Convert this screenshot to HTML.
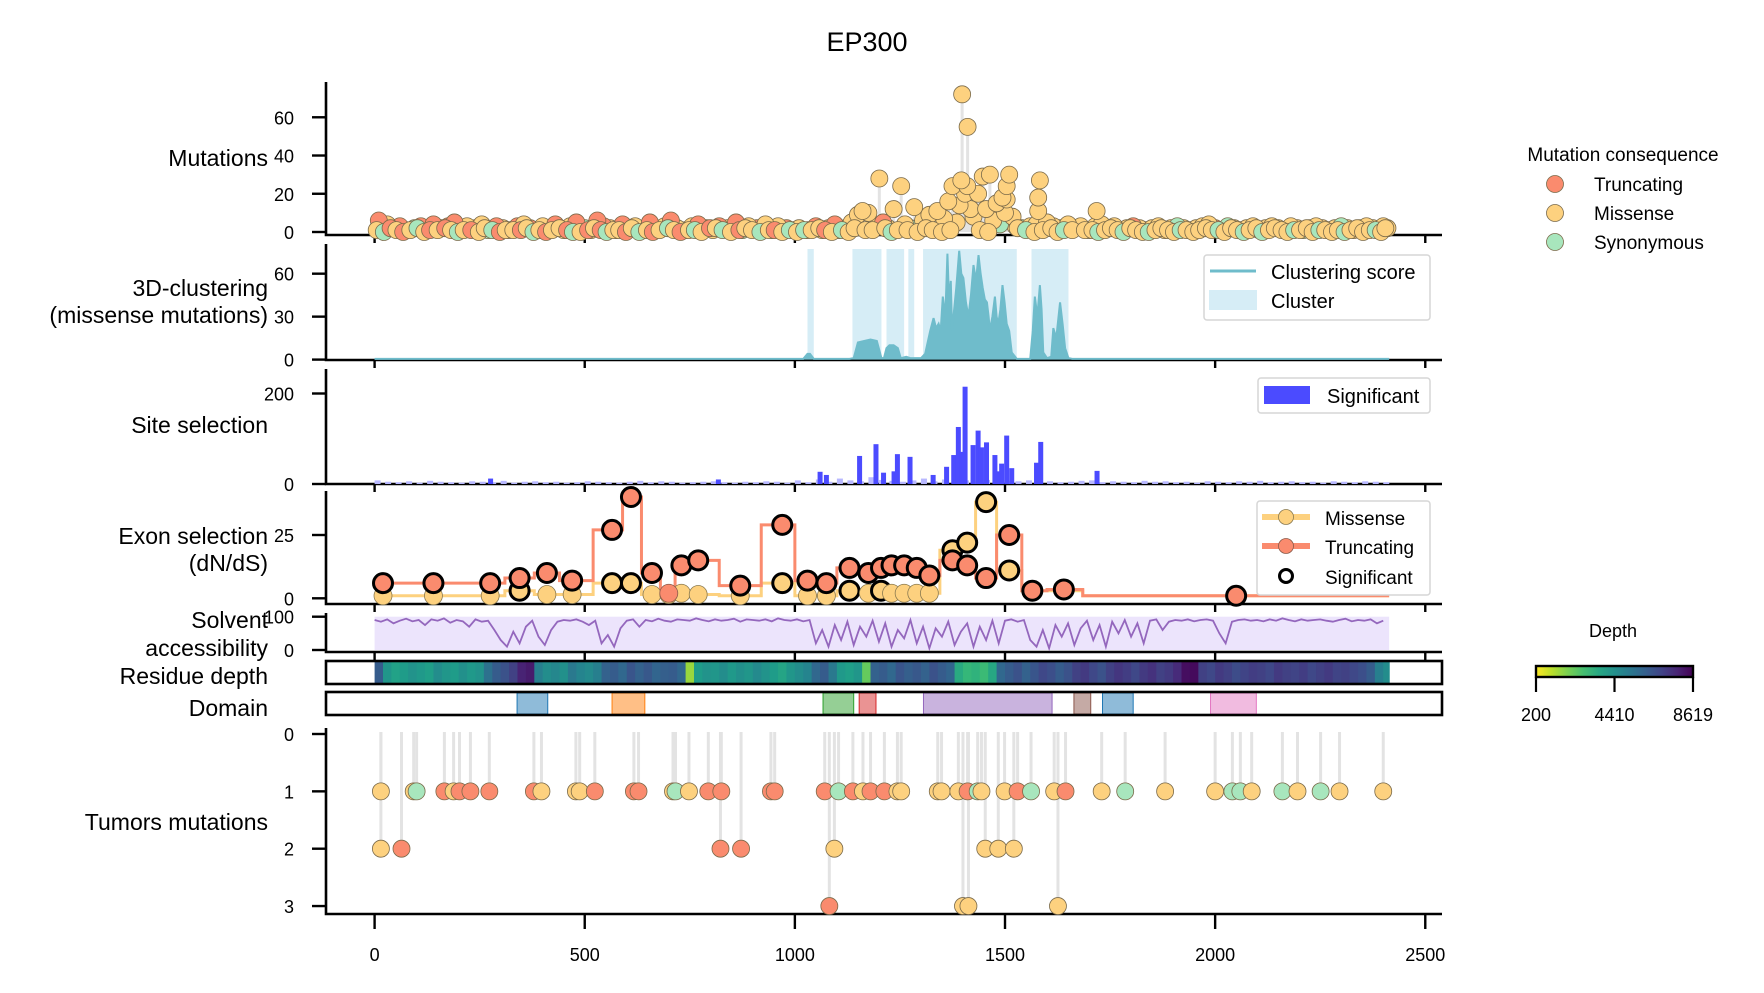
<!DOCTYPE html>
<html><head><meta charset="utf-8"><title>EP300</title>
<style>
html,body{margin:0;padding:0;background:#fff;}
svg{display:block;font-family:"Liberation Sans",Arial,sans-serif;}
</style></head>
<body>
<svg id="chart" xmlns="http://www.w3.org/2000/svg" width="1764" height="993" viewBox="0 0 1764 993">
<rect width="1764" height="993" fill="#fff"/>
<text x="867" y="51" font-size="27" text-anchor="middle">EP300</text>
<g id="layer"></g>
</svg>
<script>
// ---- data ----
const xTicks = [0, 500, 1000, 1500, 2000, 2500];
const proteinLength = 2414;
const mutPos = [10,18,30,45,60,75,95,110,125,140,160,175,190,205,220,240,255,270,290,305,320,340,355,370,385,400,415,430,450,465,480,500,515,530,545,560,575,590,605,620,640,655,670,690,705,720,740,755,770,790,805,820,840,860,875,890,910,930,945,960,980,995,
1010,1030,1050,1065,1080,1095,1105,1120,1135,1150,1161,1175,1190,1201,1210,1222,1235,1253,1262,1275,1284,1305,1320,1339,1355,1365,1375,1385,1392,1396,1398,1405,1410,1411,1418,1425,1436,1447,1455,1464,1472,1480,1488,1494,1500,1504,1504,1510,1518,1525,1540,1560,1575,1579,1579,1583,1600,1615,1630,1650,1665,1680,1700,1718,
1715,1730,1745,1760,1775,1790,1805,1820,1835,1850,1865,1880,1895,1910,1925,1940,1955,1970,1985,2000,2015,2030,2045,2060,2075,2090,2105,2120,2135,2150,2165,2180,2195,2210,2225,2240,2255,2270,2285,2300,2315,2330,2345,2360,2375,2390,2400,2410];
const mutCount = [6,1,4,2,3,1,2,3,1,4,2,3,5,1,3,2,4,1,3,2,1,3,4,2,1,3,2,4,1,3,5,2,1,6,3,2,1,4,2,3,1,5,2,3,6,2,1,3,4,2,1,3,2,5,1,3,2,4,1,3,2,1,
2,1,3,1,2,4,1,2,5,9,11,10,3,28,5,2,12,24,4,2,13,6,9,11,7,16,24,5,14,27,72,20,24,55,12,8,20,29,12,30,6,15,4,18,10,24,17,30,8,3,2,3,4,18,11,27,5,3,2,4,2,3,1,11,
3,4,2,3,1,2,3,2,1,2,3,1,2,3,2,1,2,3,4,2,1,3,2,1,2,3,1,2,3,2,1,3,2,1,2,3,2,1,2,3,2,1,2,3,2,1,3,2];
const mutType = ["T","S","M","M","T","M","S","T","M","T","M","T","T","S","M","T","M","S","T","M","M","T","M","T","S","M","T","T","M","M","T","S","M","T","T","M","M","T","S","M","M","T","S","M","T","M","S","M","T","M","M","T","M","T","S","M","T","M","S","M","T","M",
"M","S","T","M","M","T","S","M","M","M","M","M","M","M","T","M","M","M","M","S","M","M","M","M","M","M","M","M","M","M","M","M","M","M","M","M","M","M","M","M","M","M","S","M","M","M","M","M","M","M","S","M","M","M","M","M","M","M","S","M","M","M","S","M",
"M","M","S","M","M","M","T","M","S","M","M","M","M","S","M","M","M","M","M","T","M","S","M","M","M","M","S","M","M","M","M","M","M","S","M","M","M","M","M","S","M","M","M","M","M","S","M","M"];
// dense low-count background row
const baseMutPos = [5,22,38,52,68,85,102,118,132,150,168,182,198,212,230,248,262,280,298,312,330,348,362,378,392,408,422,440,458,472,490,508,522,538,552,568,582,598,612,630,648,662,678,698,712,728,748,762,778,798,812,828,848,868,882,898,918,938,952,970,988,
1005,1022,1040,1058,1072,1088,1112,1128,1142,1168,1185,1215,1230,1245,1268,1292,1312,1328,1350,1370,1440,1460,1530,1550,1570,1590,1610,1625,1640,1660,1690,1708,1722,1738,1752,1768,1782,1798,1812,1828,1842,1858,1872,1888,1902,1918,1932,1948,1962,1978,1992,2008,2022,2038,2052,2068,2082,2098,2112,2128,2142,2158,2172,2188,2202,2218,2232,2248,2262,2278,2292,2308,2322,2338,2352,2368,2382,2395,2405];
const baseMutCount = ("1021012011"+"2101102101"+"1120101210"+"0121011020"+"1012101102"+"2101210110"+"1"+"0112101021"+"1201102101"+"1021012011"+"1101210210"+"0121011012"+"1102101201"+"2101120110"+"101201102").split('').map(Number);
const baseMutType = ("MSTMTMSMTM"+"TMSMTMMSTM"+"MTMSMTMMTS"+"MTMTSMMTMS"+"MTMSMTMSMT"+"MSMTMMSMTM"+"S"+"MSMMTMSMMM"+"MMSMMMMMMM"+"MMMSMMMMSM"+"MMSMMMSMMM"+"SMMMMSMMMM"+"MSMMMSMMSM"+"MMMSMMMSMM"+"MSMMMMSMM").split('');

const clusterStart = [1030,1137,1218,1270,1305,1563];
const clusterEnd   = [1045,1206,1260,1284,1528,1651];
const scorePos = [0,1020,1030,1036,1045,1130,1140,1150,1165,1180,1195,1206,1212,1218,1225,1235,1245,1252,1265,1275,1285,1300,1310,1322,1330,1336,1342,1347,1352,1358,1363,1367,1371,1374,1377,1384,1391,1396,1401,1407,1413,1419,1425,1431,1437,1442,1447,1452,1457,1461,1464,1470,1476,1480,1484,1489,1494,1499,1504,1510,1516,1528,1560,1566,1571,1577,1583,1587,1591,1600,1610,1615,1622,1631,1637,1643,1651,1660,2414];
const scoreVal = [0.5,0.5,4,4,0.5,0.5,1,12,13,14,13,1,1,8,10,10,8,1,2,1,1,1,4,20,29,22,25,20,44,30,74,40,55,20,29,50,76,60,57,40,30,45,66,55,73,60,50,42,40,30,20,30,44,30,25,35,52,40,25,20,5,0.5,0.5,20,44,30,52,35,5,1,2,22,15,40,25,8,1,0.5,0.5];

const sitePos = [0,25,50,75,100,125,150,175,200,225,250,275,300,325,350,375,400,425,450,475,500,525,550,575,600,625,650,675,700,725,750,775,800,825,850,875,900,925,950,975,1000,1025,1050,1075,1100,1125,1150,1175,1200,1225,1250,1275,1300,1325,1350,1375,1400,1425,1450,1475,1500,1525,1550,1575,1600,1625,1650,1675,1700,1725,1750,1775,1800,1825,1850,1875,1900,1925,1950,1975,2000,2025,2050,2075,2100,2125,2150,2175,2200,2225,2250,2275,2300,2325,2350,2375,2400];
const siteVal = [8,5,4,6,3,7,5,4,3,6,5,4,7,3,5,6,4,5,3,4,6,5,4,3,5,7,4,6,5,3,4,5,6,4,3,5,4,6,5,3,8,4,10,5,12,8,6,15,9,7,5,8,12,6,10,14,8,6,9,5,7,6,8,5,6,4,5,7,8,4,6,5,4,7,5,6,4,5,3,6,5,4,6,5,7,4,5,6,4,5,3,6,5,4,6,5,4];
const sigPos = [276,818,1060,1075,1154,1193,1211,1236,1244,1274,1329,1361,1378,1389,1397,1405,1424,1436,1444,1456,1476,1484,1492,1504,1516,1575,1585,1719];
const sigVal = [12,10,27,20,62,88,25,28,66,60,20,38,64,126,71,215,86,118,81,92,64,28,45,107,35,47,93,29];

const exStart = [0,80,200,310,380,440,520,590,635,680,715,750,820,920,1000,1050,1100,1150,1190,1218,1245,1275,1305,1345,1390,1430,1480,1540,1600,1685];
const exCenter = [20,140,275,345,410,470,565,610,660,700,730,770,870,970,1030,1075,1130,1175,1205,1230,1260,1290,1320,1375,1410,1455,1510,1565,1640,2050];
const exMis = [1,1,1,3,1.5,1.5,6,6,1.5,1.5,2,1.5,1,6,1,1,3,2,3,2,2,2,2,19,22,38,11,3,3,1];
const exTrunc = [6,6,6,8,10,7,27,40,10,2,13,15,5,29,7,6,12,10,12,13,13,12,9,15,13,8,25,3,3.5,1];
const exMisSig = [0,0,0,1,0,0,1,1,0,0,0,0,0,1,0,0,1,0,1,0,0,0,0,1,1,1,1,0,0,0];
const exTruncSig = [1,1,1,1,1,1,1,1,1,0,1,1,1,1,1,1,1,1,1,1,1,1,1,1,1,1,1,1,1,1];

const solvStep = 15;
const solvVal = [90,85,92,80,88,94,86,90,75,92, 88,95,82,90,86,70,92,85,88,60, 30,10,55,20,70,88,40,15,60,85, 90,88,92,85,75,88,20,45,10,65, 88,92,70,90,86,94,88,85,92,90, 88,95,90,86,92,88,90,94,85,92, 90,88,92,86,95,90,88,92,86,90, 20,60,10,75,30,85,15,70,40,88, 25,80,10,60,35,90,20,70,5,65, 40,85,15,55,80,10,70,30,88,20, 88,92,85,90,30,10,60,5,75,40, 80,15,65,88,30,75,10,85,50,90, 40,80,20,88,92,60,85,90,88,92, 86,90,92,88,50,20,85,90,92,88, 90,86,92,88,95,90,86,92,88,90, 92,88,85,90,94,86,90,88,92,80, 88];

const depthStep = 20;
const depthVal = [6200, 4200,3800,4000,4300,4100,3900,4500,4200,4000,4400,4100,4300, 5500,6200,6500,7000, 7800,8000, 5000,4500,4700,4400,5200,4800,4600,5000, 6000,6200,5800,6400,6000,6300,5900,6100,6200,5800, 1500, 4000,4300,4200,4500,4100,4400,4200,4600,4300, 4000,3700,4200,4500,4800,5800,6200,5200,4100,3900,4200, 2200, 6000,6200,5800,6400,6100,6300,6000,6500,6200,5900, 3500,3000,3200,2900,3600, 5800,6200,6500,6000,6400,6800,6600,6200,6500,7000,7200,6800,6500,7000,7300,7100,6800,7200,7400,7000,7200,7600, 8300,8400, 7000,6800,7200,7000,6700,6900,7100,7000,6800,7200,7000,6900,7100,6800,7000,7200,6900,7000,6800,6600,6200, 5000,4500];
const depthMin = 200, depthMid = 4410, depthMax = 8619;

const domainStart = [339,565,1067,1153,1306,1664,1732,1989];
const domainEnd   = [412,643,1140,1193,1612,1704,1805,2098];
const domainColor = ["#1f77b4","#ff7f0e","#2ca02c","#d62728","#9467bd","#8c564b","#1f77b4","#e377c2"];

const tumPos = [15,93,100,166,188,202,228,273,379,397,479,488,524,617,628,710,716,748,794,825,943,952,1071,1104,1138,1162,1180,1213,1244,1253,1340,1349,1389,1411,1435,1444,1499,1530,1562,1617,1644,1730,1786,1881,2000,2041,2060,2087,2160,2196,2251,2296,2400,
15,64,823,872,1094,1453,1484,1521, 1082,1400,1413,1626];
const tumRow = [1,1,1,1,1,1,1,1,1,1,1,1,1,1,1,1,1,1,1,1,1,1,1,1,1,1,1,1,1,1,1,1,1,1,1,1,1,1,1,1,1,1,1,1,1,1,1,1,1,1,1,1,1, 2,2,2,2,2,2,2,2, 3,3,3,3];
const tumType = ["M","M","S","T","M","T","T","T","T","M","M","M","T","T","T","M","S","M","T","T","T","T","T","S","T","M","T","T","M","M","M","M","M","T","S","M","M","T","S","M","T","M","S","M","M","S","S","M","S","M","S","M","M", "M","T","T","T","M","M","M","M", "T","M","M","M"];

// ---- layout ----
const NS = "http://www.w3.org/2000/svg";
const layer = document.getElementById('layer');
const X0 = 374.6, XS = 0.42027, SPL = 326, SPR = 1442;
const X = p => X0 + p * XS;
const COL = {T:"#fa8b6e", M:"#fdd17f", S:"#a8e6bd"};
function mk(tag, attrs, parent) {
  const e = document.createElementNS(NS, tag);
  for (const k in attrs) e.setAttribute(k, attrs[k]);
  (parent || layer).appendChild(e);
  return e;
}
function txt(s, x, y, size, anchor, parent) {
  const t = mk('text', {x:x, y:y, 'font-size':size, 'text-anchor':anchor || 'end'}, parent);
  t.textContent = s;
  return t;
}
function panel(name, top, bottom, yTicks, yFn, labels, labelYs) {
  const g = mk('g', {});
  
  
  const sp = mk('path', {d:`M${SPL},${top} V${bottom} H${SPR}`, stroke:'#000', 'stroke-width':2.6, fill:'none'}, g);
  
  
  xTicks.forEach(v => mk('line', {x1:X(v), x2:X(v), y1:bottom, y2:bottom + 8, stroke:'#000', 'stroke-width':2.4}, g));
  yTicks.forEach(v => {
    const y = yFn(v);
    mk('line', {x1:SPL - 14, x2:SPL, y1:y, y2:y, stroke:'#000', 'stroke-width':2.4}, g);
    const t = txt(String(v), 294, y + 7, 18, 'end', g);
    
    
  });
  labels.forEach((l, i) => {
    const t = txt(l, 268, labelYs[i], 23, 'end', g);
    
    
  });
  return g;
}

// Panel 1: mutations
const Y1 = v => 232 - v * 1.912;
const g1 = panel('mutations', 82, 235, [0,20,40,60], Y1, ['Mutations'], [166]);
mutPos.forEach((p, i) => {
  if (mutCount[i] > 6) mk('line', {x1:X(p), x2:X(p), y1:Y1(0), y2:Y1(mutCount[i]), stroke:'#e3e3e3', 'stroke-width':3}, g1);
});
const order1 = mutPos.map((p, i) => i).sort((a, b) => mutCount[a] - mutCount[b]);
order1.forEach(i => {
  const c = mk('circle', {cx:X(mutPos[i]), cy:Y1(mutCount[i]), r:8.5, fill:COL[mutType[i]], stroke:'#7a6a4a', 'stroke-width':0.8}, g1);
  
  
});
baseMutPos.forEach((p, i) => {
  const c = mk('circle', {cx:X(p), cy:Y1(baseMutCount[i]), r:8.5, fill:COL[baseMutType[i]], stroke:'#7a6a4a', 'stroke-width':0.8}, g1);
  
  
});

// Panel 2: clustering
const Y2 = v => 359.6 - v * 1.432;
const g2 = panel('clustering', 244, 360, [0,30,60], Y2, ['3D-clustering','(missense mutations)'], [296, 323]);
clusterStart.forEach((s, i) => {
  const r = mk('rect', {x:X(s), y:249, width:X(clusterEnd[i]) - X(s), height:108, fill:'#d6edf6'}, g2);
  
  
});
let dA = `M${X(scorePos[0])},${Y2(0)}`;
let dL = '';
scorePos.forEach((p, i) => { dA += ` L${X(p)},${Y2(scoreVal[i])}`; dL += (i ? ' L' : 'M') + `${X(p)},${Y2(scoreVal[i])}`; });
dA += ` L${X(scorePos[scorePos.length - 1])},${Y2(0)} Z`;
const sa = mk('path', {d:dA, fill:'#6fbccb'}, g2);


const sl = mk('path', {d:dL, fill:'none', stroke:'#6fbccb', 'stroke-width':2}, g2);



// Panel 3: site selection
const Y3 = v => 484 - v * 0.4525;
const g3 = panel('site-selection', 369, 484, [0,200], Y3, ['Site selection'], [433]);
sitePos.forEach((p, i) => {
  const b = mk('rect', {x:X(p), y:Y3(siteVal[i]), width:6, height:Y3(0) - Y3(siteVal[i]), fill:'#b8b8ff'}, g3);
  
  
});
sigPos.forEach((p, i) => {
  const b = mk('rect', {x:X(p) - 2.5, y:Y3(sigVal[i]), width:5, height:Y3(0) - Y3(sigVal[i]), fill:'#4b4bff'}, g3);
  
  
});

// Panel 4: exon selection
const Y4 = v => 598.3 - v * 2.532;
const g4 = panel('exon-selection', 491, 604, [0,25], Y4, ['Exon selection','(dN/dS)'], [544, 571]);
function stepPath(vals) {
  let d = '';
  exStart.forEach((s, i) => {
    const e = i < exStart.length - 1 ? exStart[i + 1] : proteinLength;
    d += (i ? ' L' : 'M') + `${X(s)},${Y4(vals[i])} L${X(e)},${Y4(vals[i])}`;
  });
  return d;
}
const lm = mk('path', {d:stepPath(exMis), fill:'none', stroke:'#fdd17f', 'stroke-width':3}, g4);


const lt = mk('path', {d:stepPath(exTrunc), fill:'none', stroke:'#fa8b6e', 'stroke-width':3}, g4);


exCenter.forEach((c, i) => {
  const a = mk('circle', {cx:X(c), cy:Y4(exMis[i]), r:exMisSig[i] ? 9.5 : 9, fill:'#fdd17f', stroke:exMisSig[i] ? '#000' : '#8a7a50', 'stroke-width':exMisSig[i] ? 3 : 0.8}, g4);
  
  
});
exCenter.forEach((c, i) => {
  const a = mk('circle', {cx:X(c), cy:Y4(exTrunc[i]), r:exTruncSig[i] ? 9.5 : 9, fill:'#fa8b6e', stroke:exTruncSig[i] ? '#000' : '#8a5a4a', 'stroke-width':exTruncSig[i] ? 3 : 0.8}, g4);
  
  
});

// Panel 5: solvent accessibility
const Y5 = v => 650 - v * 0.333;
const g5 = panel('solvent-accessibility', 613, 652, [0,100], Y5, ['Solvent','accessibility'], [628, 656]);
const sf = mk('rect', {x:X(0), y:Y5(100), width:X(proteinLength) - X(0), height:Y5(0) - Y5(100), fill:'#ece4fc'}, g5);


let dS = '';
solvVal.forEach((v, i) => { dS += (i ? ' L' : 'M') + `${X(Math.min(i * solvStep, proteinLength))},${Y5(v)}`; });
const sL = mk('path', {d:dS, fill:'none', stroke:'#9467bd', 'stroke-width':1.8}, g5);



// viridis
const VIR = [[68,1,84],[72,40,120],[62,74,137],[49,104,142],[38,130,142],[31,158,137],[53,183,121],[109,205,89],[180,222,44],[253,231,37]];
function viridis(t) {
  t = Math.max(0, Math.min(1, t)) * (VIR.length - 1);
  const i = Math.min(VIR.length - 2, Math.floor(t)), f = t - i;
  const c = VIR[i].map((v, k) => Math.round(v + (VIR[i + 1][k] - v) * f));
  return `rgb(${c[0]},${c[1]},${c[2]})`;
}
const depthColor = v => viridis(1 - (v - depthMin) / (depthMax - depthMin));

// Residue depth
const gd = mk('g', {});


depthVal.forEach((v, i) => {
  const s = i * depthStep, e = Math.min((i + 1) * depthStep, proteinLength);
  const r = mk('rect', {x:X(s), y:662, width:X(e) - X(s) + 0.6, height:21, fill:depthColor(v)}, gd);
  
  
});
mk('rect', {x:326, y:661, width:SPR - 326, height:23, fill:'none', stroke:'#000', 'stroke-width':2.6}, gd);
const dl = txt('Residue depth', 268, 684, 23, 'end', gd);



// Domains
const gdm = mk('g', {});


domainStart.forEach((s, i) => {
  const r = mk('rect', {x:X(s), y:693, width:X(domainEnd[i]) - X(s), height:21, fill:domainColor[i], 'fill-opacity':0.5, stroke:domainColor[i], 'stroke-width':1}, gdm);
  
  
});
mk('rect', {x:326, y:692, width:SPR - 326, height:23, fill:'none', stroke:'#000', 'stroke-width':2.6}, gdm);
const dml = txt('Domain', 268, 716, 23, 'end', gdm);



// Panel 6: tumors
const Y6 = v => 734 + v * 57.35;
const g6 = mk('g', {});


mk('path', {d:`M${SPL},728 V914 H${SPR}`, stroke:'#000', 'stroke-width':2.6, fill:'none'}, g6);
[0,1,2,3].forEach(v => {
  mk('line', {x1:SPL - 14, x2:SPL, y1:Y6(v), y2:Y6(v), stroke:'#000', 'stroke-width':2.4}, g6);
  const t = txt(String(v), 294, Y6(v) + 7, 18, 'end', g6);
  
  
});
xTicks.forEach(v => {
  mk('line', {x1:X(v), x2:X(v), y1:914, y2:929, stroke:'#000', 'stroke-width':2.4}, g6);
  const t = txt(String(v), X(v), 961, 18, 'middle', g6);
  
  
});
const tl = txt('Tumors mutations', 268, 830, 23, 'end', g6);


tumPos.forEach((p, i) => mk('line', {x1:X(p), x2:X(p), y1:Y6(0) - 2, y2:Y6(tumRow[i]), stroke:'#e3e3e3', 'stroke-width':3}, g6));
tumPos.forEach((p, i) => {
  const c = mk('circle', {cx:X(p), cy:Y6(tumRow[i]), r:8.5, fill:COL[tumType[i]], stroke:'#7a6a4a', 'stroke-width':0.8}, g6);
  
  
});

// ---- legends ----
const lg1 = mk('g', {});


txt('Mutation consequence', 1623, 161, 19, 'middle', lg1);
[['Truncating','T',184],['Missense','M',213],['Synonymous','S',242]].forEach(e => {
  const c = mk('circle', {cx:1555, cy:e[2], r:8.5, fill:COL[e[1]], stroke:'#7a6a4a', 'stroke-width':0.8}, lg1);
  
  
  txt(e[0], 1594, e[2] + 7, 19, 'start', lg1);
});

const lg2 = mk('g', {});


mk('rect', {x:1204, y:255, width:226, height:65, rx:3, fill:'#fff', 'fill-opacity':0.85, stroke:'#d6d6d6', 'stroke-width':1.5}, lg2);
mk('line', {x1:1210, x2:1256, y1:271, y2:271, stroke:'#6fbccb', 'stroke-width':3}, lg2);
txt('Clustering score', 1271, 279, 20, 'start', lg2);
mk('rect', {x:1209, y:290, width:48, height:20, fill:'#d6edf6'}, lg2);
txt('Cluster', 1271, 308, 20, 'start', lg2);

const lg3 = mk('g', {});


mk('rect', {x:1258, y:378, width:172, height:35, rx:3, fill:'#fff', stroke:'#d6d6d6', 'stroke-width':1.5}, lg3);
mk('rect', {x:1264, y:386, width:46, height:18, fill:'#4b4bff'}, lg3);
txt('Significant', 1327, 403, 20, 'start', lg3);

const lg4 = mk('g', {});


mk('rect', {x:1257, y:501, width:173, height:94, rx:3, fill:'#fff', stroke:'#d6d6d6', 'stroke-width':1.5}, lg4);
mk('line', {x1:1262, x2:1310, y1:517, y2:517, stroke:'#fdd17f', 'stroke-width':6}, lg4);
mk('circle', {cx:1286, cy:517, r:7.5, fill:'#fdd17f', stroke:'#8a7a50', 'stroke-width':0.8}, lg4);
txt('Missense', 1325, 525, 19, 'start', lg4);
mk('line', {x1:1262, x2:1310, y1:546, y2:546, stroke:'#fa8b6e', 'stroke-width':6}, lg4);
mk('circle', {cx:1286, cy:546, r:7.5, fill:'#fa8b6e', stroke:'#8a5a4a', 'stroke-width':0.8}, lg4);
txt('Truncating', 1325, 554, 19, 'start', lg4);
mk('circle', {cx:1286, cy:576, r:6.5, fill:'#fff', stroke:'#000', 'stroke-width':3}, lg4);
txt('Significant', 1325, 584, 19, 'start', lg4);

// colorbar
const cb = mk('g', {});


const defs = mk('defs', {}, cb);
const grad = mk('linearGradient', {id:'vir', x1:0, x2:1, y1:0, y2:0}, defs);
for (let k = 0; k <= 10; k++) mk('stop', {offset:k / 10, 'stop-color':viridis(1 - k / 10)}, grad);
txt('Depth', 1613, 637, 18, 'middle', cb);
mk('rect', {x:1536, y:666, width:157, height:11, fill:'url(#vir)', stroke:'#000', 'stroke-width':2.4}, cb);
[depthMin, depthMid, depthMax].forEach(v => {
  const x = 1536 + (v - depthMin) / (depthMax - depthMin) * 157;
  mk('line', {x1:x, x2:x, y1:677, y2:692, stroke:'#000', 'stroke-width':2.2}, cb);
  txt(String(v), x, 721, 18, 'middle', cb);
});
</script>
</body></html>
